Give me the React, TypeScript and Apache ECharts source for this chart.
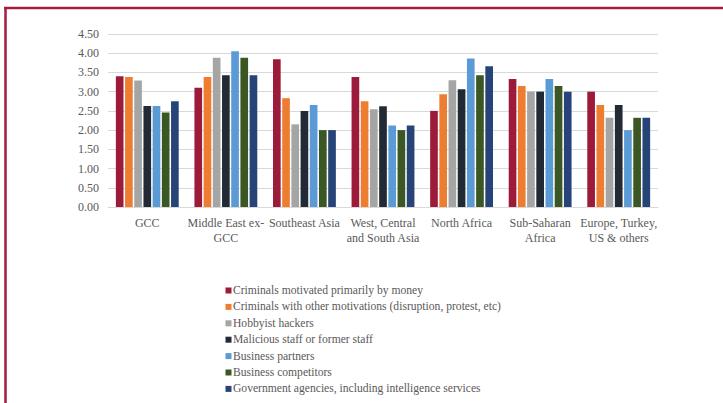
import React, { useEffect, useRef } from "react";
import * as echarts from "echarts";

const categories = [
  "GCC",
  "Middle East ex-\nGCC",
  "Southeast Asia",
  "West, Central\nand South Asia",
  "North Africa",
  "Sub-Saharan\nAfrica",
  "Europe, Turkey,\nUS & others",
];

const seriesNames = [
  "Criminals motivated primarily by money",
  "Criminals with other motivations (disruption, protest, etc)",
  "Hobbyist hackers",
  "Malicious staff or former staff",
  "Business partners",
  "Business competitors",
  "Government agencies, including intelligence services",
];

const money = [3.4, 3.1, 3.84, 3.38, 2.5, 3.33, 3.0];
const otherMotives = [3.38, 3.38, 2.83, 2.75, 2.93, 3.15, 2.65];
const hobbyist = [3.29, 3.88, 2.15, 2.54, 3.3, 3.0, 2.32];
const staff = [2.63, 3.43, 2.5, 2.62, 3.06, 3.0, 2.65];
const partners = [2.63, 4.05, 2.65, 2.12, 3.86, 3.33, 2.0];
const competitors = [2.46, 3.88, 2.0, 2.0, 3.43, 3.15, 2.32];
const government = [2.75, 3.43, 2.0, 2.12, 3.66, 3.0, 2.32];

const seriesData = [money, otherMotives, hobbyist, staff, partners, competitors, government];
const colors = ["#9C1B3B", "#ED7D31", "#A5A5A5", "#222A35", "#5B9BD5", "#3A5724", "#264478"];

const FONT = "'Liberation Serif', 'DejaVu Serif', serif";

export default function App() {
  const ref = useRef<HTMLDivElement>(null);
  useEffect(() => {
    if (!ref.current) return;
    const chart = echarts.init(ref.current, null, { renderer: "svg" });
    chart.setOption({
      animation: false,
      backgroundColor: "#ffffff",
      color: colors,
      grid: { left: 108, right: 65, top: 34, bottom: 196, containLabel: false },
      xAxis: {
        type: "category",
        data: categories,
        axisLine: { lineStyle: { color: "#D9D9D9", width: 1 } },
        axisTick: { show: false },
        axisLabel: {
          color: "#595959",
          fontFamily: FONT,
          fontSize: 12,
          lineHeight: 15.5,
          margin: 8,
          interval: 0,
        },
      },
      yAxis: {
        type: "value",
        min: 0,
        max: 4.5,
        interval: 0.5,
        axisLine: { show: false },
        axisTick: { show: false },
        splitLine: { lineStyle: { color: "#D9D9D9", width: 1 } },
        axisLabel: {
          color: "#595959",
          fontFamily: FONT,
          fontSize: 12,
          margin: 9,
          formatter: (v: number) => v.toFixed(2),
        },
      },
      legend: {
        orient: "vertical",
        left: 225.5,
        top: 284.5,
        height: 300,
        padding: 0,
        itemWidth: 6,
        itemHeight: 6,
        itemGap: 4.4,
        icon: "rect",
        data: seriesNames,
        textStyle: {
          color: "#595959",
          fontFamily: FONT,
          fontSize: 11.6,
          lineHeight: 12,
          padding: [0, 0, 0, -3.5],
        },
      },
      series: seriesNames.map((name, i) => ({
        name,
        type: "bar",
        data: seriesData[i],
        barGap: "20%",
        barCategoryGap: "20%",
        itemStyle: { color: colors[i] },
      })),
      graphic: [
        {
          type: "line",
          shape: { x1: 4, y1: 8, x2: 723, y2: 8 },
          style: { stroke: "#A51C3C", lineWidth: 2.5 },
        },
        {
          type: "line",
          shape: { x1: 5.5, y1: 7, x2: 5.5, y2: 403 },
          style: { stroke: "#A51C3C", lineWidth: 2.5 },
        },
      ],
    });
    return () => chart.dispose();
  }, []);
  return (
    <div
      ref={ref}
      style={{ position: "fixed", left: 0, top: 0, width: 723, height: 403 }}
    />
  );
}
